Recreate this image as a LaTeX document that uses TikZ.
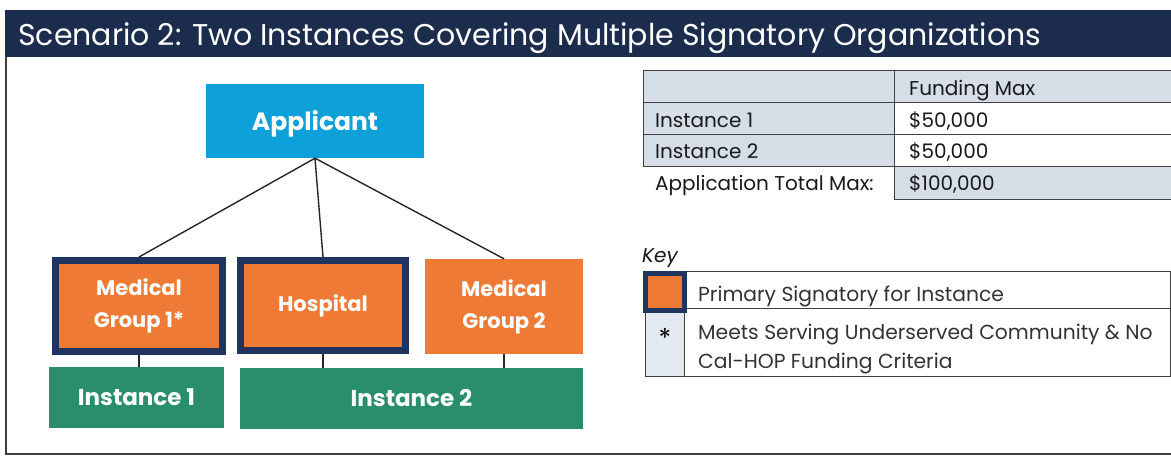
\documentclass[tikz,border=0pt]{standalone}
\usepackage{fontspec}
\setmainfont{Poppins}
\definecolor{navybar}{HTML}{1C2C4C}
\definecolor{navy}{HTML}{1F3461}
\definecolor{orangebox}{HTML}{EE7A35}
\definecolor{appblue}{HTML}{0DA0D9}
\definecolor{greenbox}{HTML}{2A8D6C}
\definecolor{tblfill}{HTML}{D5DEE7}
\definecolor{keyfill}{HTML}{E2E9F0}
\begin{document}
\begin{tikzpicture}[x=1pt,y=-1pt,
  box/.style={inner sep=0pt, text=white, font=\fontsize{21}{32}\selectfont\bfseries, align=center},
  primary/.style={box, fill=orangebox, draw=navy, line width=7pt},
  plain/.style={box, fill=orangebox},
  inst/.style={box, fill=greenbox, font=\fontsize{23}{26}\selectfont\bfseries},
  link/.style={draw=black!85, line width=1.4pt},
  grid/.style={draw=black!75, line width=1pt},
  txt/.style={anchor=base west, inner sep=0pt, font=\fontsize{20}{24}\selectfont, text=black!90},
  keytxt/.style={txt, font=\fontsize{20.3}{24}\selectfont, text=black!80}]
\useasboundingbox (0,0) rectangle (1171,456);
\fill[white] (0,0) rectangle (1171,456);
% frame and title bar
\draw[grid, line width=1.3pt] (6,57) -- (6,454) -- (1171,454);
\fill[navybar] (5,10) rectangle (1171,57);
\node[anchor=base west, inner sep=0pt, text=white, font=\fontsize{30}{34}\selectfont] (title) at (18,45) {Scenario 2: Two Instances Covering Multiple Signatory Organizations};
% org chart
\node[box, fill=appblue, minimum width=218pt, minimum height=74pt, font=\fontsize{25}{28}\selectfont\bfseries] (app) at (315,121) {\raisebox{-9pt}[0pt][0pt]{Applicant}};
\node[primary, minimum width=167pt, minimum height=91pt] (mg1) at (139,306) {Medical\\Group 1*};
\node[primary, minimum width=165pt, minimum height=90pt] (hosp) at (323,305.5) {Hospital};
\node[plain, minimum width=158pt, minimum height=95pt] (mg2) at (504,306.5) {Medical\\Group 2};
\node[inst, minimum width=175pt, minimum height=61pt] (inst1) at (136.5,397.5) {Instance 1};
\node[inst, minimum width=343pt, minimum height=61pt] (inst2) at (411.5,398.5) {Instance 2};
\draw[link] (app.south) -- (mg1.north);
\draw[link] (app.south) -- (hosp.north);
\draw[link] (app.south) -- (mg2.north);
\draw[link] (mg1.south) -- (mg1.south |- inst1.north);
\draw[link] (hosp.south) -- (hosp.south |- inst2.north);
\draw[link] (mg2.south) -- (mg2.south |- inst2.north);
% funding table
\fill[tblfill] (643,70) rectangle (894,166);
\fill[tblfill] (894,70) rectangle (1171,102);
\fill[tblfill] (894,166) rectangle (1171,199);
\draw[grid] (643,70) -- (1171,70);
\draw[grid] (643,102) -- (1171,102);
\draw[grid] (643,134) -- (1171,134);
\draw[grid] (643,166) -- (1171,166);
\draw[grid] (643,70) -- (643,166);
\draw[grid] (894,70) -- (894,199) -- (1171,199);
\node[txt] (hdr) at (909,95) {Funding Max};
\node[txt] (r1a) at (655,127) {Instance 1};
\node[txt] (r1b) at (909,127) {\$50,000};
\node[txt] (r2a) at (655,158) {Instance 2};
\node[txt] (r2b) at (909,158) {\$50,000};
\node[txt] (r3a) at (655,190) {Application Total Max:};
\node[txt] (r3b) at (909,190) {\$100,000};
% key
\node[txt, font=\fontsize{20}{24}\selectfont\itshape] (keyt) at (642,262) {Key};
\fill[keyfill] (645,313) rectangle (684,376);
\draw[grid] (645,271) rectangle (1170,376);
\draw[grid] (684,271) -- (684,376);
\draw[grid] (645,308) -- (1170,308);
\node[fill=orangebox, draw=navy, line width=5pt, inner sep=0pt, minimum width=39pt, minimum height=37pt] (swatch) at (665,292) {};
\node[inner sep=0pt, font=\fontsize{26}{30}\selectfont] (ast) at (665,338) {*};
\node[keytxt] (k1) at (698,301) {Primary Signatory for Instance};
\node[keytxt] (k2) at (698,339) {Meets Serving Underserved Community \& No};
\node[keytxt] (k3) at (698,368) {Cal-HOP Funding Criteria};
\end{tikzpicture}
\end{document}
